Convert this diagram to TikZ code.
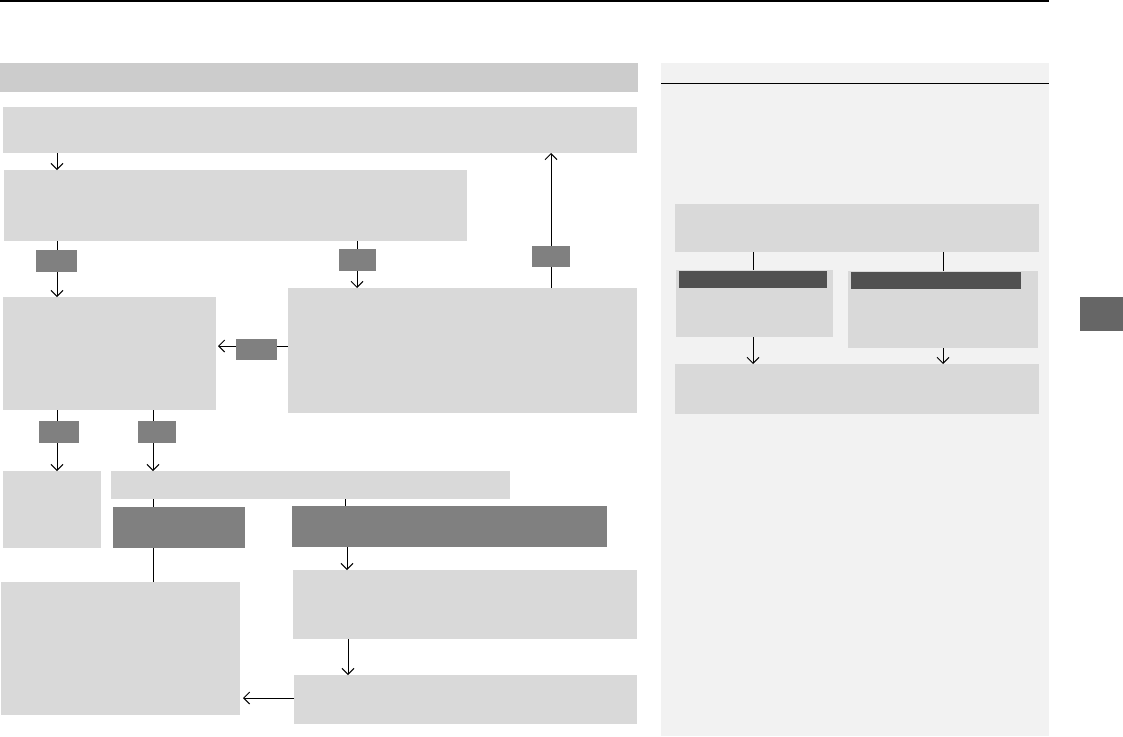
\documentclass[tikz,border=0pt]{standalone}
\usetikzlibrary{arrows.meta}
\definecolor{boxgray}{HTML}{D9D9D9}
\definecolor{headgray}{HTML}{CCCCCC}
\definecolor{labgray}{HTML}{808080}
\definecolor{darkgray}{HTML}{505050}
\definecolor{panelgray}{HTML}{F2F2F2}
\definecolor{tabgray}{HTML}{666666}
\begin{document}
\begin{tikzpicture}[x=1pt,y=-1pt,
  lbox/.style={fill=boxgray,draw=none,inner sep=0pt,outer sep=0pt},
  hbox/.style={fill=headgray,draw=none,inner sep=0pt,outer sep=0pt},
  mbox/.style={fill=labgray,draw=none,inner sep=0pt,outer sep=0pt},
  dbox/.style={fill=darkgray,draw=none,inner sep=0pt,outer sep=0pt},
  pbox/.style={fill=panelgray,draw=none,inner sep=0pt,outer sep=0pt},
  tbox/.style={fill=tabgray,draw=none,inner sep=0pt,outer sep=0pt},
  conn/.style={line width=1pt,black},
  arr/.style={conn,-{Straight Barb[length=6pt,width=12pt,line width=1pt]}}]
\useasboundingbox (0,0) rectangle (1123,736);
\newcommand\mkbox[6]{\node[#6, minimum width={(#4-#2)*1pt}, minimum height={(#5-#3)*1pt}] (#1) at ({(#2+#4)/2},{(#3+#5)/2}) {};}
% x helpers
\coordinate (x57) at (57,0);
\coordinate (x153) at (153,0);
\coordinate (x357) at (357,0);
\coordinate (x345) at (345,0);
\coordinate (x347) at (347,0);
\coordinate (x348) at (348,0);
\coordinate (x551) at (551,0);
\coordinate (x753) at (753,0);
\coordinate (x943) at (943,0);
\coordinate (y346) at (0,346);
\coordinate (y698) at (0,698);
% top rule
\draw[line width=1.5pt] (0,0.75) -- (1049,0.75);
% right panel
\mkbox{panel}{661}{63}{1049}{736}{pbox}
\draw[line width=1.2pt] (661,83.3) -- (1049,83.3);
\mkbox{tab}{1080}{297}{1123}{331}{tbox}
% left header
\mkbox{head}{0}{63}{638}{92}{hbox}
% main boxes
\mkbox{A}{3}{107}{637}{153}{lbox}
\mkbox{B}{4}{170}{467}{241}{lbox}
\mkbox{C}{3}{297}{216}{410}{lbox}
\mkbox{D}{288}{288}{637}{413}{lbox}
\mkbox{E}{3}{471}{101}{548}{lbox}
\mkbox{F}{111}{471}{510}{499}{lbox}
\mkbox{G}{113}{507}{245}{548}{mbox}
\mkbox{I}{292}{506}{607}{547}{mbox}
\mkbox{H}{1}{582}{240}{715}{lbox}
\mkbox{J}{293}{570}{637}{639}{lbox}
\mkbox{K}{294}{675}{637}{724}{lbox}
% right panel boxes
\mkbox{R1}{675}{204}{1039}{252}{lbox}
\mkbox{R2}{676}{270}{833}{337}{lbox}
\mkbox{R2h}{679}{271}{827}{288}{dbox}
\mkbox{R3}{848}{271}{1038}{348}{lbox}
\mkbox{R3h}{851}{272}{1021}{289}{dbox}
\mkbox{R4}{675}{364}{1039}{414}{lbox}
% connectors
\draw[arr] (A.south -| x57) -- (B.north -| x57);
\draw[arr] (B.south -| x57) -- (C.north -| x57);
\draw[arr] (B.south -| x357) -- (D.north -| x357);
\draw[arr] (D.north -| x551) -- (A.south -| x551);
\draw[arr] (D.west |- y346) -- ([xshift=2pt]C.east |- y346);
\draw[arr] (C.south -| x57) -- (E.north -| x57);
\draw[arr] (C.south -| x153) -- (F.north -| x153);
\draw[conn] (F.south -| x153) -- (G.north -| x153);
\draw[conn] (G.south -| x153) -- (H.north -| x153);
\draw[conn] (F.south -| x345) -- (I.north -| x345);
\draw[arr] (I.south -| x347) -- (J.north -| x347);
\draw[arr] (J.south -| x348) -- (K.north -| x348);
\draw[arr] (K.west |- y698) -- ([xshift=3pt]H.east |- y698);
\draw[conn] (R1.south -| x753) -- (R2.north -| x753);
\draw[conn] (R1.south -| x943) -- (R3.north -| x943);
\draw[arr] (R2.south -| x753) -- (R4.north -| x753);
\draw[arr] (R3.south -| x943) -- (R4.north -| x943);
% label boxes on connectors
\mkbox{L1}{36}{250}{77}{272}{mbox}
\mkbox{L2}{339}{249}{376}{271}{mbox}
\mkbox{L3}{532}{246}{570}{267}{mbox}
\mkbox{L4}{236}{339}{277}{360}{mbox}
\mkbox{L5}{39}{421}{79}{443}{mbox}
\mkbox{L6}{138}{421}{176}{443}{mbox}
\end{tikzpicture}
\end{document}
